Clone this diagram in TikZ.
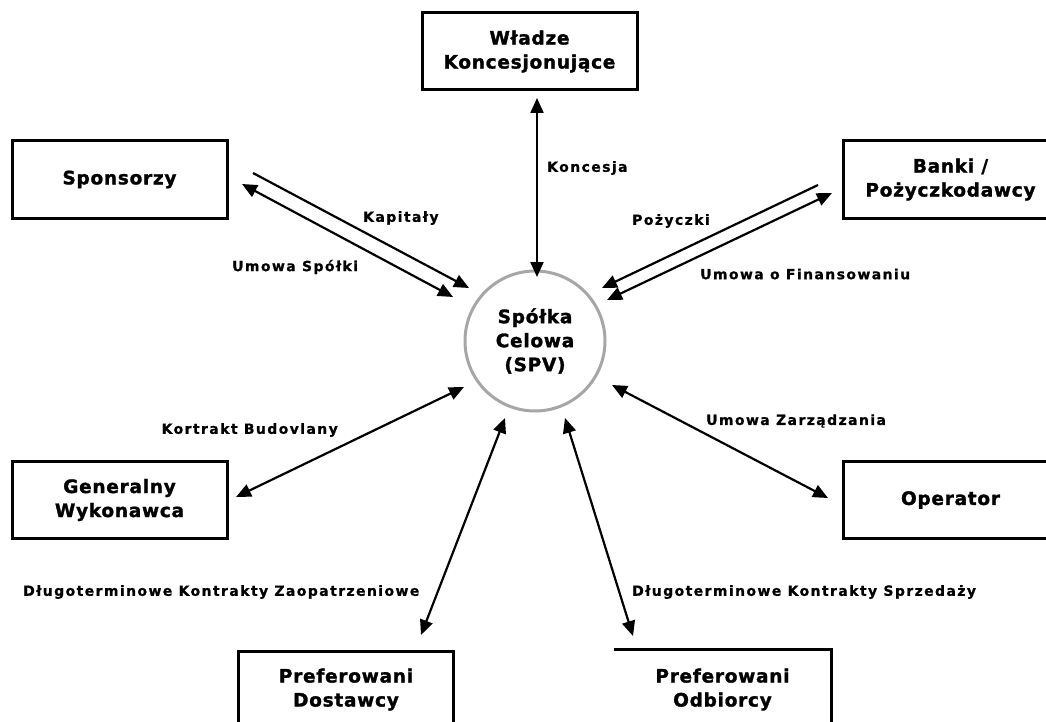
\documentclass[tikz,border=0pt]{standalone}
\usepackage{fontspec}
\setmainfont{DejaVu Sans}
\newfontfamily\boxfont[LetterSpace=4, BoldFeatures={FakeBold=1.5}]{DejaVu Sans}
\newfontfamily\lblfont[LetterSpace=10, BoldFeatures={FakeBold=0.8}]{DejaVu Sans}
\usetikzlibrary{arrows.meta}
\begin{document}
\begin{tikzpicture}[x=1pt,y=-1pt,
  box/.style={draw, line width=3pt, minimum width=215pt, minimum height=77pt, inner sep=0pt,
    font=\boxfont\bfseries\fontsize{18.5}{24}\selectfont, align=center},
  openbox/.style={box, draw=none},
  lbl/.style={font=\lblfont\bfseries\fontsize{14}{16}\selectfont, inner sep=0pt},
  con/.style={line width=2.2pt, -{Triangle[length=15pt,width=13pt]}},
  dbl/.style={line width=2.2pt, {Triangle[length=15pt,width=13pt]}-{Triangle[length=15pt,width=13pt]}},
]
\useasboundingbox (0,0) rectangle (1046,722);

% boxes
\node[box] (wladze) at (529.5,51.5) {Władze\\Koncesjonujące};
\node[box] (spons) at (119.5,179.5) {Sponsorzy};
\node[box] (banki) at (950.5,179.5) {Banki /\\Pożyczkodawcy};
\node[box] (gen) at (119.5,500) {Generalny\\Wykonawca};
\node[box] (oper) at (950.5,500) {Operator};
\node[box] (dost) at (346,689.5) {Preferowani\\Dostawcy};
\node[openbox] (odb) at (722.5,689.5) {Preferowani\\Odbiorcy};
\draw[line width=3pt] (odb.north west) -- (odb.north east) -- (odb.south east);

% centre
\node[circle, draw=gray!70, line width=3pt, minimum size=140pt, inner sep=0pt,
  font=\boxfont\bfseries\fontsize{18.5}{24}\selectfont, align=center] (spv) at (535,341) {Spółka\\Celowa\\(SPV)};

% connector end points
\coordinate (k1) at (537,98);   \coordinate (k2) at (537,277);
\coordinate (s1) at (253,173);  \coordinate (s2) at (469,288);
\coordinate (s3) at (242,184);  \coordinate (s4) at (453,297);
\coordinate (b1) at (818,185);  \coordinate (b2) at (602,288);
\coordinate (b3) at (832,193);  \coordinate (b4) at (607,300);
\coordinate (g1) at (464,387);  \coordinate (g2) at (236,497);
\coordinate (o1) at (612,385);  \coordinate (o2) at (828,498);
\coordinate (d1) at (505,418);  \coordinate (d2) at (421,635);
\coordinate (r1) at (565,418);  \coordinate (r2) at (633,636);

\draw[dbl] (k1) -- (k2);
\draw[con] (s1) -- (s2);
\draw[dbl] (s3) -- (s4);
\draw[con] (b1) -- (b2);
\draw[dbl] (b3) -- (b4);
\draw[dbl] (g1) -- (g2);
\draw[dbl] (o1) -- (o2);
\draw[dbl] (d1) -- (d2);
\draw[dbl] (r1) -- (r2);

% labels
\node[lbl, anchor=west] (lk) at (547,168) {Koncesja};
\node[lbl, anchor=west] (lkap) at (363,218) {Kapitały};
\node[lbl, anchor=west] (lus) at (232,267) {Umowa Spółki};
\node[lbl, anchor=west] (lpoz) at (632,221) {Pożyczki};
\node[lbl, anchor=west] (luf) at (700,274) {Umowa o Finansowaniu};
\node[lbl, anchor=east] (lkb) at (338,430) {Kortrakt Budovlany};
\node[lbl, anchor=west] (luz) at (706,421) {Umowa Zarządzania};
\node[lbl, anchor=west] (ldz) at (23,592) {Długoterminowe Kontrakty Zaopatrzeniowe};
\node[lbl, anchor=west] (lds) at (632,592) {Długoterminowe Kontrakty Sprzedaży};
\end{tikzpicture}
\end{document}
